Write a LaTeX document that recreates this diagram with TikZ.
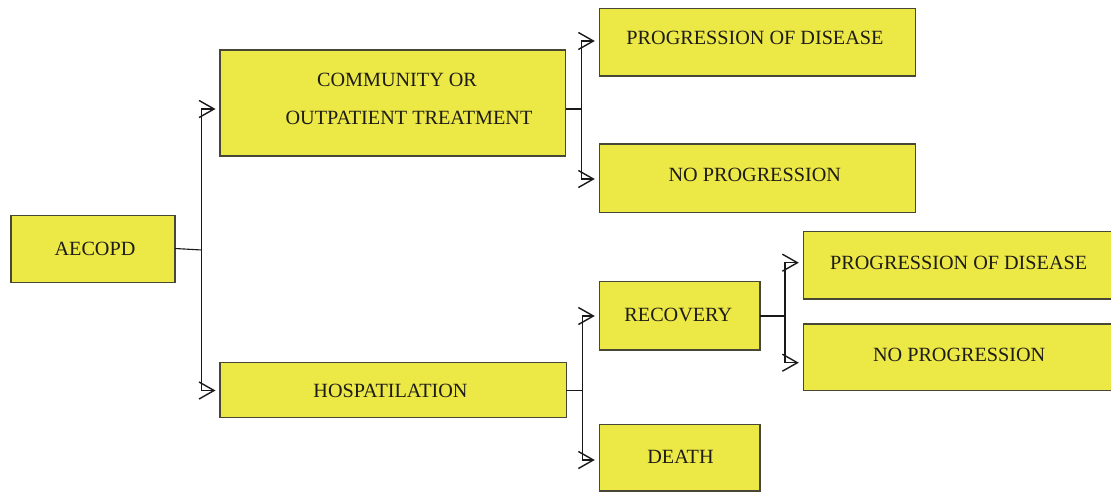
\documentclass[tikz,border=0pt]{standalone}
\usepackage{fontspec}
\setmainfont{Liberation Serif}
\usetikzlibrary{arrows.meta}
\definecolor{boxfill}{RGB}{236,232,70}
\definecolor{boxline}{RGB}{72,70,52}
\definecolor{txtcol}{RGB}{30,28,24}
\tikzset{
  box/.style={draw=boxline, line width=1.3pt, fill=boxfill, inner sep=0pt, outer sep=0pt},
  txt/.style={anchor=base, inner sep=0pt, text=txtcol, font=\fontsize{20.2pt}{24pt}\selectfont},
  link/.style={draw=black!90, line width=1.5pt},
  thinlink/.style={draw=black!90, line width=1.1pt},
  tip/.style={{Straight Barb[length=15pt,width=17pt,line width=1.4pt]}-{Straight Barb[length=15pt,width=17pt,line width=1.4pt]}, shorten <=4.5pt, shorten >=4.5pt}
}
\begin{document}
\begin{tikzpicture}[x=1pt,y=-1pt]
\useasboundingbox (0,0) rectangle (1111,492);
\clip (0,0) rectangle (1111,492);
% boxes
\node[box, minimum width=164pt, minimum height=66.6pt] (aec) at (93,249) {};
\node[box, minimum width=345.7pt, minimum height=106pt] (comm) at (392.85,103) {};
\node[box, minimum width=346.3pt, minimum height=55.4pt] (hosp) at (393.15,390) {};
\node[box, minimum width=316.4pt, minimum height=67.7pt] (pod1) at (757.5,42.2) {};
\node[box, minimum width=316.4pt, minimum height=68.3pt] (np1) at (757.5,178.2) {};
\node[box, minimum width=160.7pt, minimum height=68.3pt] (rec) at (679.65,315.8) {};
\node[box, minimum width=160.7pt, minimum height=66.7pt] (death) at (679.65,457.7) {};
\node[box, minimum width=321.7pt, minimum height=67.3pt] (pod2) at (964.15,265.3) {};
\node[box, minimum width=321.7pt, minimum height=66.7pt] (np2) at (964.15,357.3) {};
% texts
\node[txt] (taec) at (95,255) {AECOPD};
\node[txt] (tcomma) at (397,86.7) {COMMUNITY OR};
\node[txt] (tcommb) at (409,124.3) {OUTPATIENT TREATMENT};
\node[txt] (thosp) at (390.5,397.3) {HOSPATILATION};
\node[txt] (tpod1) at (755,45) {PROGRESSION OF DISEASE};
\node[txt] (tnp1) at (754.8,181.7) {NO PROGRESSION};
\node[txt] (trec) at (678.3,321.7) {RECOVERY};
\node[txt] (tdeath) at (680.5,463.3) {DEATH};
\node[txt] (tpod2) at (958.7,269) {PROGRESSION OF DISEASE};
\node[txt] (tnp2) at (959.2,361.7) {NO PROGRESSION};
% bus coordinates
\coordinate (b1t) at (201.7,109);
\coordinate (b1m) at (201.7,250);
\coordinate (b1b) at (201.7,390.5);
\coordinate (b2t) at (581.7,41);
\coordinate (b2m) at (581.7,109);
\coordinate (b2b) at (581.7,179);
\coordinate (b3t) at (582.5,316);
\coordinate (b3m) at (582.5,390.7);
\coordinate (b3b) at (582.5,460);
\coordinate (b4t) at (785,262.7);
\coordinate (b4m) at (785,316);
\coordinate (b4b) at (785,362.7);
% connectors
\draw[thinlink] (aec.east |- 0,248.5) -- (b1m);
\draw[link, tip] (comm.west |- b1t) -- (b1t) -- (b1b) -- (hosp.west |- b1b);
\draw[link] (comm.east |- b2m) -- (b2m);
\draw[link, tip] (pod1.west |- b2t) -- (b2t) -- (b2b) -- (np1.west |- b2b);
\draw[link] (hosp.east |- b3m) -- (b3m);
\draw[thinlink, tip] (rec.west |- b3t) -- (b3t) -- (b3b) -- (death.west |- b3b);
\draw[link] (rec.east |- b4m) -- (b4m);
\draw[link, tip] (pod2.west |- b4t) -- (b4t) -- (b4b) -- (np2.west |- b4b);
\end{tikzpicture}
\end{document}
